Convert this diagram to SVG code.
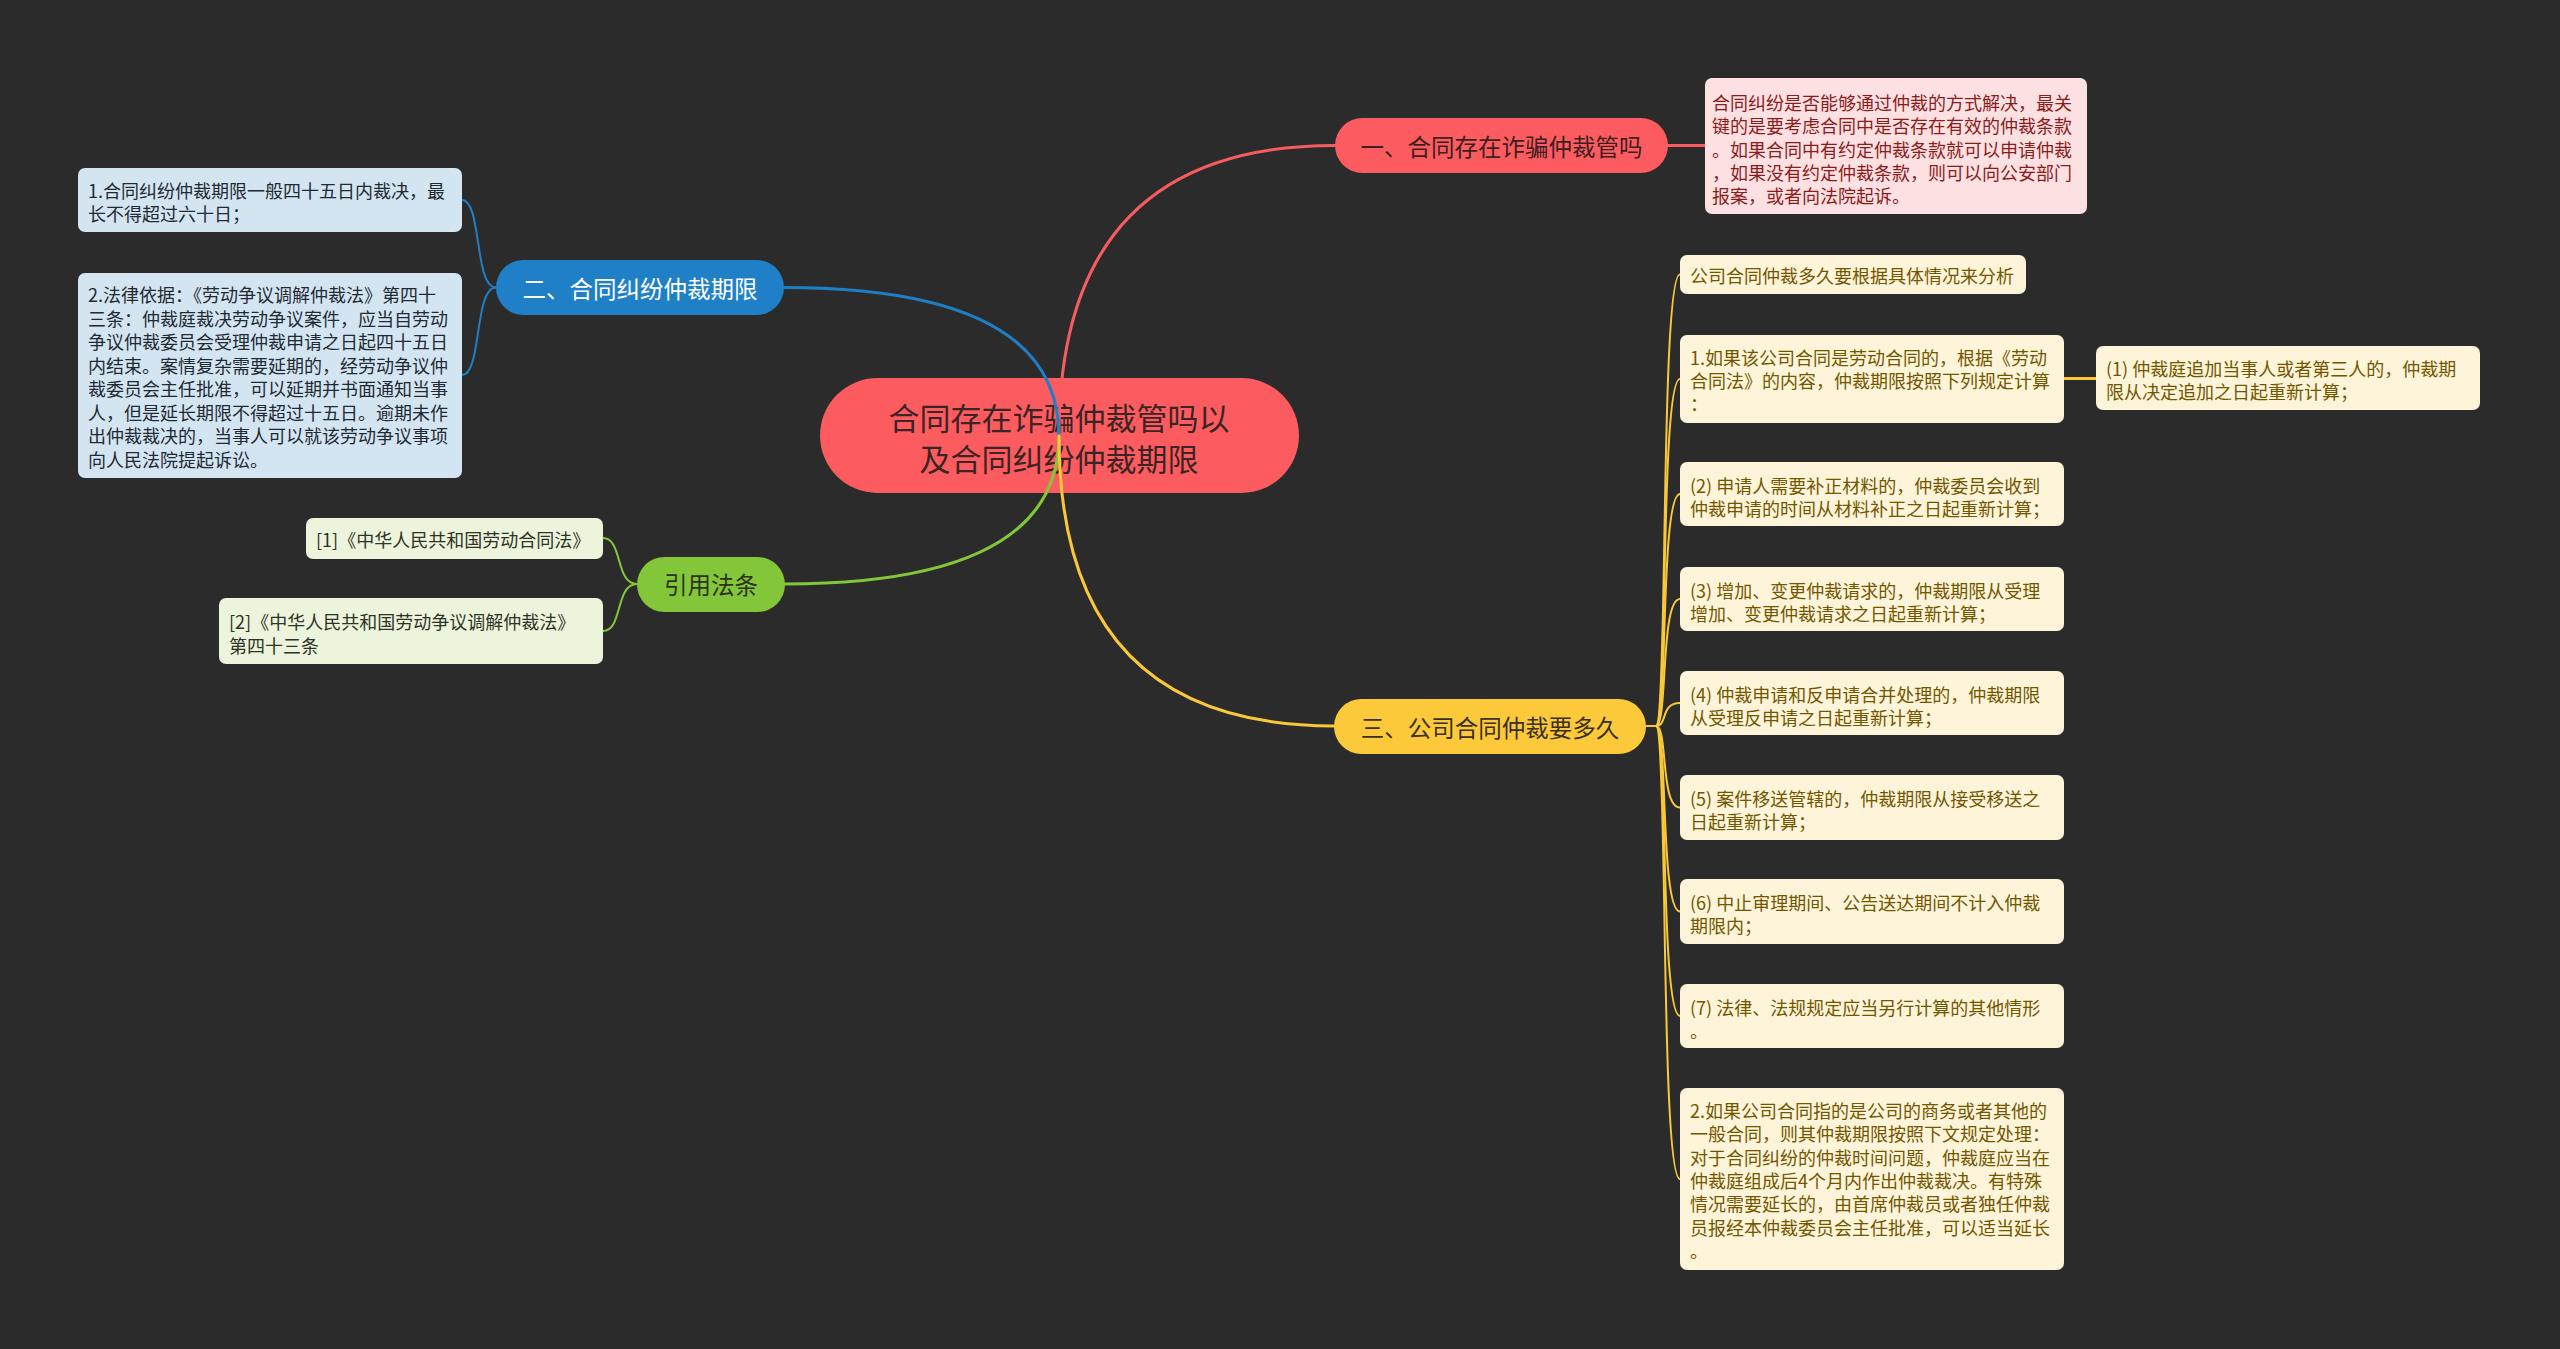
<svg xmlns="http://www.w3.org/2000/svg" width="2560" height="1349" viewBox="0 0 2560 1349">
<style>
text{font-family:"Noto Sans CJK SC","Noto Sans",sans-serif;dominant-baseline:central}
.t{font-size:18px}
.nl{font-size:23.5px;text-anchor:middle}
.c{fill:none;stroke-width:3;stroke-linecap:round}
.cs{fill:none;stroke-width:2}
.pk{fill:#fde0e1}.pkt{fill:#8a1c1c}
.bl{fill:#d4e5f2}.blt{fill:#1f2a33}
.gr{fill:#edf4dc}.grt{fill:#2e3326}
.ye{fill:#fdf4d9}.yet{fill:#735600}
</style>
<rect x="0" y="0" width="2560" height="1349" fill="#2b2b2b"/>

<g id="root">
<rect x="820" y="378" width="479" height="115" rx="57.5" fill="#fc5b5f"/>
<text x="1059" y="416" font-size="31" text-anchor="middle" fill="#3b2424">合同存在诈骗仲裁管吗以</text>
<text x="1059" y="457" font-size="31" text-anchor="middle" fill="#3b2424">及合同纠纷仲裁期限</text>
</g>

<g id="connectors">
<path class="c" stroke="#f65d60" d="M1059 436 Q1059 145.5 1335 145.5"/>
<path class="c" stroke="#f65d60" d="M1668 145.5 L1705 145.5"/>
<path class="c" stroke="#1f7fc6" d="M1059 436 Q1059 287.5 784 287.5"/>
<path class="c" stroke="#83c63a" d="M1059 436 Q1059 584 785 584"/>
<path class="c" stroke="#f8c838" d="M1059 436 Q1059 726 1334 726"/>
<path class="cs" stroke="#1f7fc6" d="M496 287.5 C474 287.5 482 200 462 200"/>
<path class="cs" stroke="#1f7fc6" d="M496 287.5 C474 287.5 482 375 462 375"/>
<path class="cs" stroke="#83c63a" d="M637 584 C615 584 623 538 603 538"/>
<path class="cs" stroke="#83c63a" d="M637 584 C615 584 623 631 603 631"/>
<g stroke="#f8c838">
<path class="cs" d="M1646 726 L1656 726 C1668 726 1660 274.5 1680 274.5"/>
<path class="cs" d="M1646 726 L1656 726 C1668 726 1660 379 1680 379"/>
<path class="cs" d="M1646 726 L1656 726 C1668 726 1660 494 1680 494"/>
<path class="cs" d="M1646 726 L1656 726 C1668 726 1660 599 1680 599"/>
<path class="cs" d="M1646 726 L1656 726 C1668 726 1660 703 1680 703"/>
<path class="cs" d="M1646 726 L1656 726 C1668 726 1660 807.5 1680 807.5"/>
<path class="cs" d="M1646 726 L1656 726 C1668 726 1660 911.5 1680 911.5"/>
<path class="cs" d="M1646 726 L1656 726 C1668 726 1660 1016 1680 1016"/>
<path class="cs" d="M1646 726 L1656 726 C1668 726 1660 1179 1680 1179"/>
<path class="c" stroke-width="3.5" d="M2064 378.5 L2096 378.5"/>
</g>
</g>

<g id="b1">
<rect x="1335" y="118" width="333" height="55" rx="27.5" fill="#fc5b5f"/>
<text class="nl" x="1501.5" y="145.5" fill="#3d1f1f">一、合同存在诈骗仲裁管吗</text>
</g>
<g id="b1c1">
<rect x="1705" y="78" width="382" height="136" rx="7" class="pk"/>
<text class="t pkt" x="1712" y="102">合同纠纷是否能够通过仲裁的方式解决，最关</text>
<text class="t pkt" x="1712" y="125.3">键的是要考虑合同中是否存在有效的仲裁条款</text>
<text class="t pkt" x="1712" y="148.6">。如果合同中有约定仲裁条款就可以申请仲裁</text>
<text class="t pkt" x="1712" y="172">，如果没有约定仲裁条款，则可以向公安部门</text>
<text class="t pkt" x="1712" y="195.2">报案，或者向法院起诉。</text>
</g>

<g id="b2">
<rect x="496" y="260" width="288" height="55" rx="27.5" fill="#1f80c8"/>
<text class="nl" x="640" y="287.5" fill="#ffffff">二、合同纠纷仲裁期限</text>
</g>
<g id="b2c1">
<rect x="78" y="168" width="384" height="64" rx="7" class="bl"/>
<text class="t blt" x="88" y="190">1.合同纠纷仲裁期限一般四十五日内裁决，最</text>
<text class="t blt" x="88" y="213">长不得超过六十日；</text>
</g>
<g id="b2c2">
<rect x="78" y="273" width="384" height="205" rx="7" class="bl"/>
<text class="t blt" x="88" y="294">2.法律依据：《劳动争议调解仲裁法》第四十</text>
<text class="t blt" x="88" y="317.5">三条：仲裁庭裁决劳动争议案件，应当自劳动</text>
<text class="t blt" x="88" y="341">争议仲裁委员会受理仲裁申请之日起四十五日</text>
<text class="t blt" x="88" y="364.5">内结束。案情复杂需要延期的，经劳动争议仲</text>
<text class="t blt" x="88" y="388">裁委员会主任批准，可以延期并书面通知当事</text>
<text class="t blt" x="88" y="411.5">人，但是延长期限不得超过十五日。逾期未作</text>
<text class="t blt" x="88" y="435">出仲裁裁决的，当事人可以就该劳动争议事项</text>
<text class="t blt" x="88" y="458.5">向人民法院提起诉讼。</text>
</g>

<g id="b3">
<rect x="637" y="557" width="148" height="55" rx="27.5" fill="#83c63a"/>
<text class="nl" x="711" y="584" fill="#2b3320">引用法条</text>
</g>
<g id="b3c1">
<rect x="306" y="518" width="297" height="41" rx="7" class="gr"/>
<text class="t grt" x="316" y="538.5">[1]《中华人民共和国劳动合同法》</text>
</g>
<g id="b3c2">
<rect x="219" y="598" width="384" height="66" rx="7" class="gr"/>
<text class="t grt" x="229" y="621">[2]《中华人民共和国劳动争议调解仲裁法》</text>
<text class="t grt" x="229" y="645">第四十三条</text>
</g>

<g id="b4">
<rect x="1334" y="699" width="312" height="55" rx="27.5" fill="#fcc93a"/>
<text class="nl" x="1490" y="726.5" fill="#3a3020">三、公司合同仲裁要多久</text>
</g>
<g id="b4c0">
<rect x="1680" y="255" width="346" height="39" rx="7" class="ye"/>
<text class="t yet" x="1690" y="274.5">公司合同仲裁多久要根据具体情况来分析</text>
</g>
<g id="b4c1">
<rect x="1680" y="335" width="384" height="88" rx="7" class="ye"/>
<text class="t yet" x="1690" y="357">1.如果该公司合同是劳动合同的，根据《劳动</text>
<text class="t yet" x="1690" y="380">合同法》的内容，仲裁期限按照下列规定计算</text>
<text class="t yet" x="1690" y="403">：</text>
</g>
<g id="b4c1a">
<rect x="2096" y="346" width="384" height="64" rx="7" class="ye"/>
<text class="t yet" x="2106" y="368">(1) 仲裁庭追加当事人或者第三人的，仲裁期</text>
<text class="t yet" x="2106" y="391">限从决定追加之日起重新计算；</text>
</g>
<g id="b4c2">
<rect x="1680" y="462" width="384" height="64" rx="7" class="ye"/>
<text class="t yet" x="1690" y="485">(2) 申请人需要补正材料的，仲裁委员会收到</text>
<text class="t yet" x="1690" y="508">仲裁申请的时间从材料补正之日起重新计算；</text>
</g>
<g id="b4c3">
<rect x="1680" y="567" width="384" height="64" rx="7" class="ye"/>
<text class="t yet" x="1690" y="590">(3) 增加、变更仲裁请求的，仲裁期限从受理</text>
<text class="t yet" x="1690" y="613">增加、变更仲裁请求之日起重新计算；</text>
</g>
<g id="b4c4">
<rect x="1680" y="671" width="384" height="64" rx="7" class="ye"/>
<text class="t yet" x="1690" y="694">(4) 仲裁申请和反申请合并处理的，仲裁期限</text>
<text class="t yet" x="1690" y="717">从受理反申请之日起重新计算；</text>
</g>
<g id="b4c5">
<rect x="1680" y="775" width="384" height="65" rx="7" class="ye"/>
<text class="t yet" x="1690" y="798">(5) 案件移送管辖的，仲裁期限从接受移送之</text>
<text class="t yet" x="1690" y="821">日起重新计算；</text>
</g>
<g id="b4c6">
<rect x="1680" y="879" width="384" height="65" rx="7" class="ye"/>
<text class="t yet" x="1690" y="902">(6) 中止审理期间、公告送达期间不计入仲裁</text>
<text class="t yet" x="1690" y="925">期限内；</text>
</g>
<g id="b4c7">
<rect x="1680" y="984" width="384" height="64" rx="7" class="ye"/>
<text class="t yet" x="1690" y="1007">(7) 法律、法规规定应当另行计算的其他情形</text>
<text class="t yet" x="1690" y="1030">。</text>
</g>
<g id="b4c8">
<rect x="1680" y="1088" width="384" height="182" rx="7" class="ye"/>
<text class="t yet" x="1690" y="1110">2.如果公司合同指的是公司的商务或者其他的</text>
<text class="t yet" x="1690" y="1133.3">一般合同，则其仲裁期限按照下文规定处理：</text>
<text class="t yet" x="1690" y="1156.6">对于合同纠纷的仲裁时间问题，仲裁庭应当在</text>
<text class="t yet" x="1690" y="1180">仲裁庭组成后4个月内作出仲裁裁决。有特殊</text>
<text class="t yet" x="1690" y="1203.3">情况需要延长的，由首席仲裁员或者独任仲裁</text>
<text class="t yet" x="1690" y="1226.6">员报经本仲裁委员会主任批准，可以适当延长</text>
<text class="t yet" x="1690" y="1250">。</text>
</g>
</svg>
